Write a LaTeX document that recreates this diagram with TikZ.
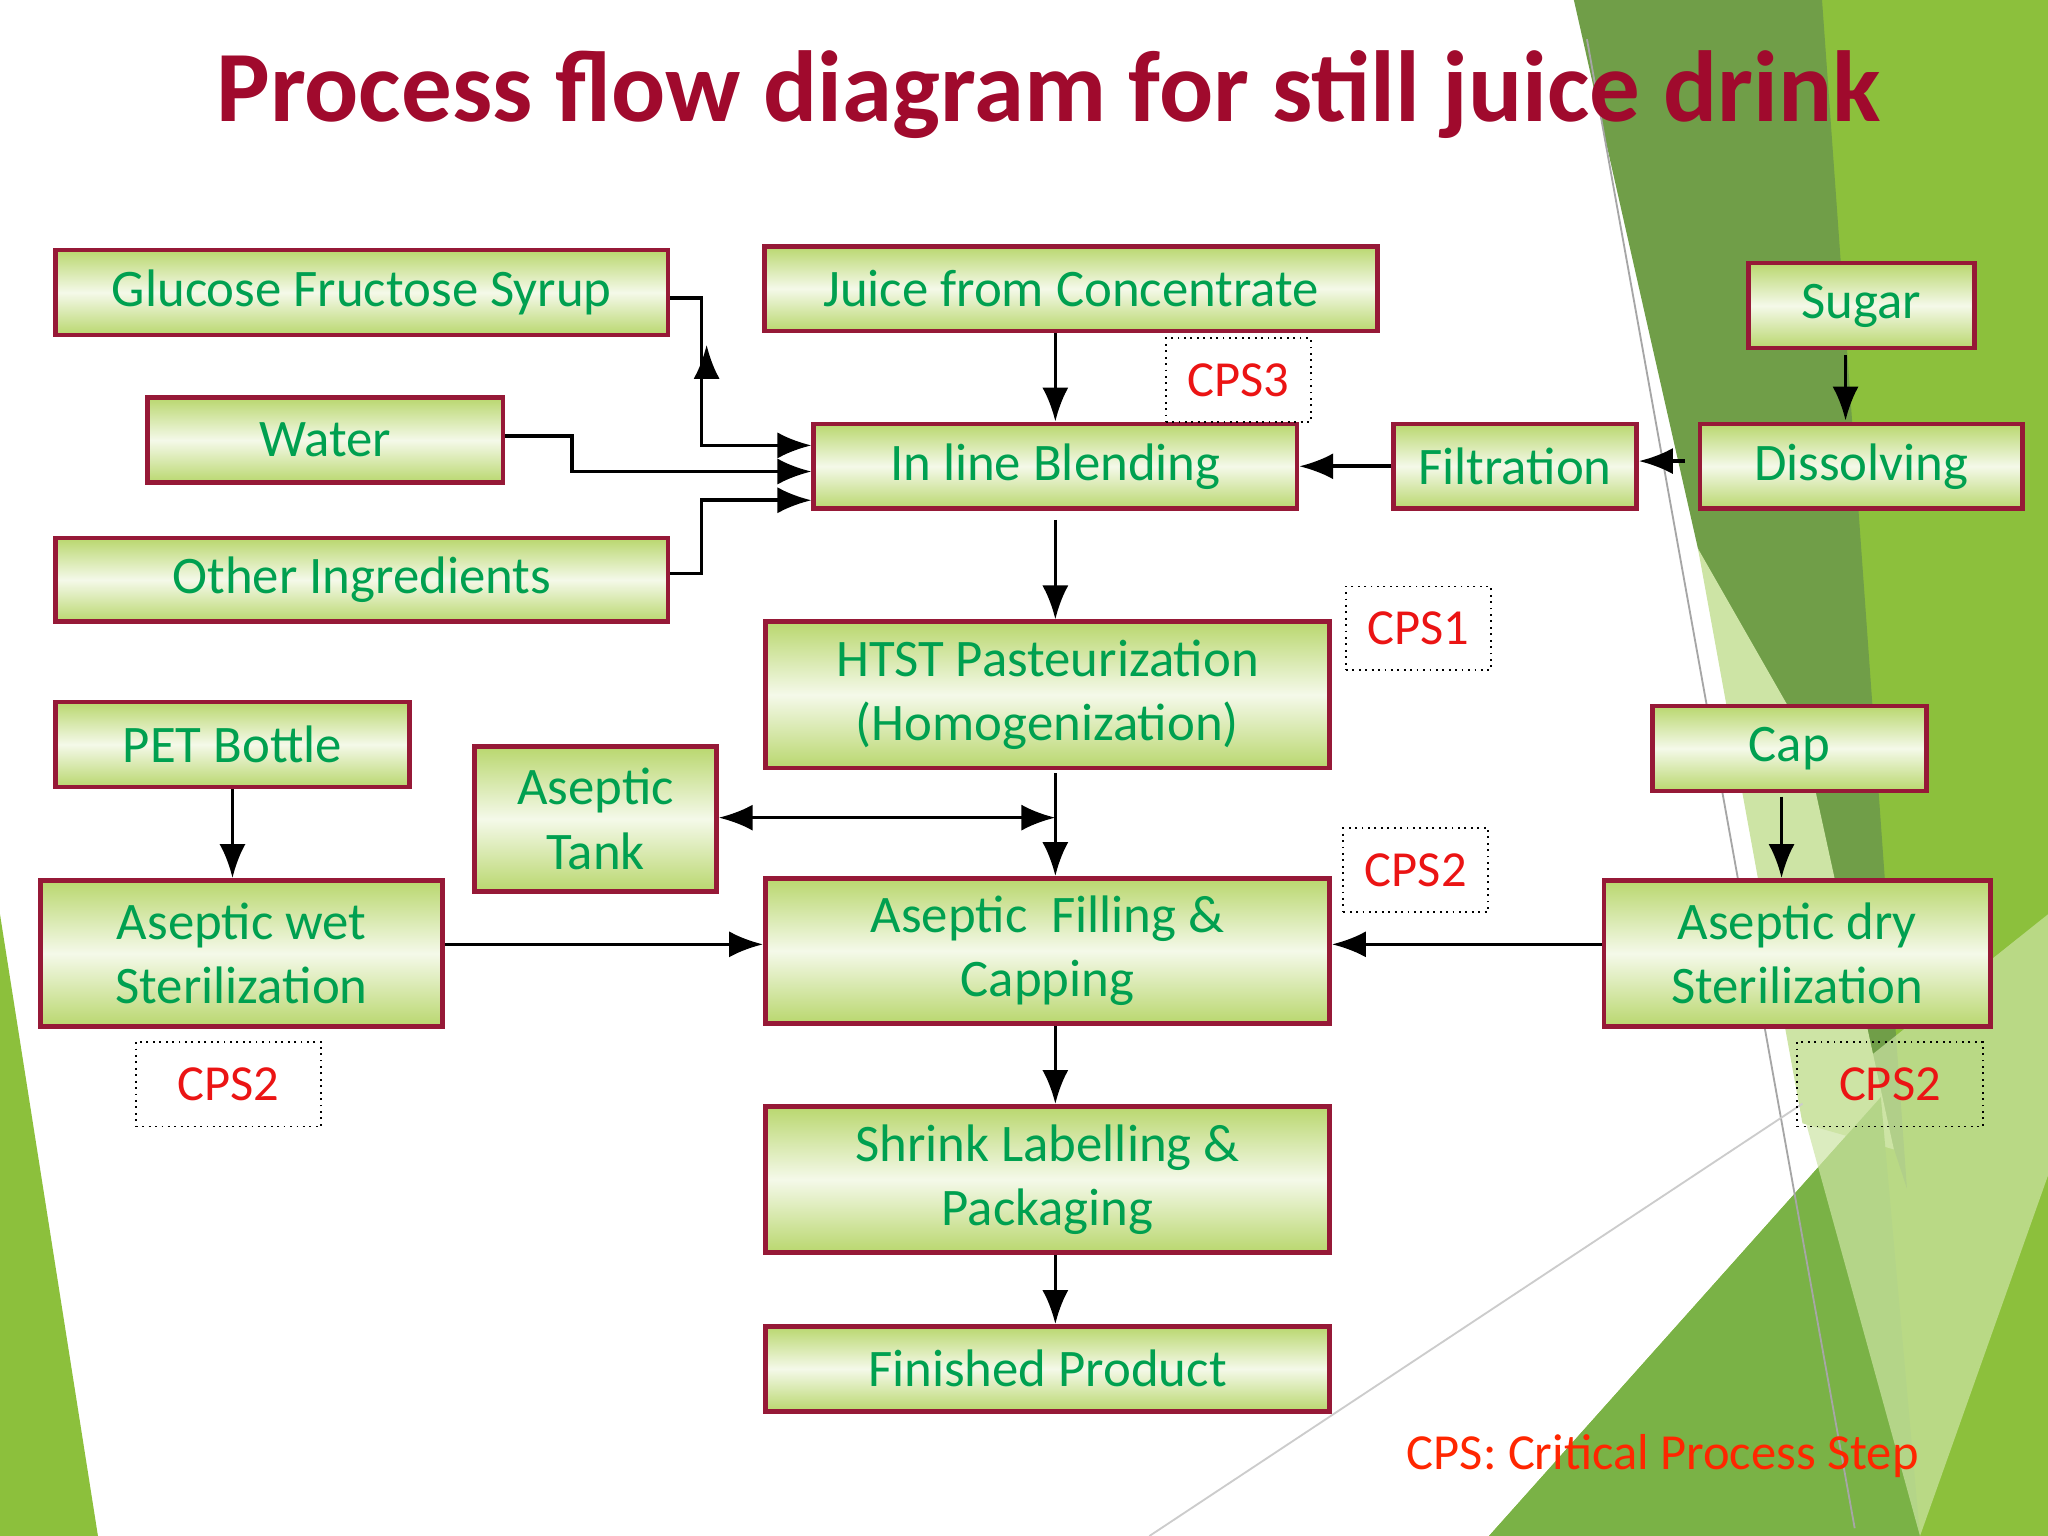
\documentclass[tikz,border=0pt]{standalone}
\usepackage{fontspec}
\setmainfont{Carlito}
\usetikzlibrary{arrows.meta}
\definecolor{titlered}{RGB}{160,10,45}
\definecolor{boxgreen}{RGB}{185,215,110}
\definecolor{boxborder}{RGB}{150,25,55}
\definecolor{textgreen}{RGB}{0,160,80}
\definecolor{cpsred}{RGB}{235,20,20}
\definecolor{darkolive}{RGB}{112,158,72}
\definecolor{brightgreen}{RGB}{140,192,60}
\definecolor{palegreen}{RGB}{205,228,165}
\definecolor{midgreen}{RGB}{122,178,70}

\begin{document}
\begin{tikzpicture}[x=0.1mm,y=-0.1mm,
  box/.style={draw=boxborder, line width=1pt, inner sep=0pt, align=center,
    top color=boxgreen, bottom color=boxgreen, middle color=white!85!boxgreen,
    font=\fontsize{11.5}{14}\selectfont, text=textgreen},
  cps/.style={draw=black, densely dotted, thin, inner sep=0pt, fill=none,
    font=\fontsize{11}{13}\selectfont, text=cpsred},
  arr/.style={-{Latex[length=2.6mm,width=2mm]}, thick, black},
  ln/.style={thick, black}
]
\useasboundingbox (0,0) rectangle (1568,1176);
\fill[white] (0,0) rectangle (1568,1176);

% ===== background decoration =====
\fill[brightgreen] (1330,0) -- (1568,0) -- (1568,1176) -- (1140,1176) -- (1440,840) -- cycle;
\fill[darkolive] (1205,0) -- (1395,0) -- (1460,910) -- (1300,420) -- cycle;
\fill[palegreen] (1300,420) -- (1380,560) -- (1450,880) -- (1380,860) -- cycle;
\fill[midgreen] (1140,1176) -- (1440,840) -- (1470,1176) -- cycle;
\fill[palegreen, opacity=0.7] (1380,850) -- (1568,700) -- (1568,900) -- (1470,1176) -- cycle;
\fill[brightgreen] (0,700) -- (75,1176) -- (0,1176) -- cycle;
\draw[gray!70, thin] (1215,30) -- (1420,1170);
\draw[gray!40, thin] (880,1176) -- (1380,845);

% ===== title =====
\node[font=\fontsize{22}{26}\selectfont\bfseries, text=titlered] (title) at (803,72)
  {Process flow diagram for still juice drink};

% ===== boxes =====
\node[box, minimum width=46.9mm, minimum height=6.5mm] (glu) at (277,224) {Glucose Fructose Syrup};
\node[box, minimum width=46.9mm, minimum height=6.5mm] (jfc) at (820,221) {Juice from Concentrate};
\node[box, minimum width=17.3mm, minimum height=6.5mm] (sug) at (1425,234) {Sugar};
\node[box, minimum width=27.2mm, minimum height=6.5mm] (wat) at (249,337) {Water};
\node[box, minimum width=37mm, minimum height=6.5mm] (ble) at (808,357) {In line Blending};
\node[box, minimum width=18.6mm, minimum height=6.5mm] (fil) at (1160,357) {Filtration};
\node[box, minimum width=24.7mm, minimum height=6.5mm] (dis) at (1425,357) {Dissolving};
\node[box, minimum width=46.9mm, minimum height=6.4mm] (oth) at (277,444) {Other Ingredients};
\node[box, minimum width=43.2mm, minimum height=11.2mm] (hts) at (802,532) {HTST Pasteurization\\(Homogenization)};
\node[box, minimum width=27.1mm, minimum height=6.5mm] (pet) at (178,570) {PET Bottle};
\node[box, minimum width=18.5mm, minimum height=11.1mm] (tan) at (456,627) {Aseptic\\Tank};
\node[box, minimum width=21mm, minimum height=6.5mm] (cap) at (1370,573) {Cap};
\node[box, minimum width=30.8mm, minimum height=11.2mm] (wet) at (185,730) {Aseptic wet\\Sterilization};
\node[box, minimum width=43.2mm, minimum height=11.1mm] (fll) at (802,728) {Aseptic\ \ Filling \&\\Capping};
\node[box, minimum width=29.6mm, minimum height=11.2mm] (dry) at (1376,730) {Aseptic dry\\Sterilization};
\node[box, minimum width=43.2mm, minimum height=11.2mm] (shr) at (802,903) {Shrink Labelling \&\\Packaging};
\node[box, minimum width=43.2mm, minimum height=6.5mm] (fin) at (802,1048) {Finished Product};

% ===== CPS labels =====
\node[cps, minimum width=11.1mm, minimum height=6.4mm] (c3) at (948,291) {CPS3};
\node[cps, minimum width=11.1mm, minimum height=6.4mm] (c1) at (1086,481) {CPS1};
\node[cps, minimum width=11.1mm, minimum height=6.4mm] (c2m) at (1084,666) {CPS2};
\node[cps, minimum width=14.2mm, minimum height=6.5mm] (c2l) at (175,830) {CPS2};
\node[cps, minimum width=14.2mm, minimum height=6.5mm] (c2r) at (1447,830) {CPS2};
\node[font=\fontsize{11}{13}\selectfont, text=orange!30!red] (note) at (1273,1115) {CPS: Critical Process Step};

% ===== connectors =====
\coordinate (jglu) at (537,341);
\coordinate (jwat) at (438,361);
\coordinate (joth) at (537,383);
\draw[arr] (glu.east |- 0,228) -| (jglu) -- (jglu -| ble.west);
\draw[arr] (wat.east |- 0,334) -| (jwat) -- (jwat -| ble.west);
\draw[arr] (oth.east |- 0,439) -| (joth) -- (joth -| ble.west);
\draw[arr] (jfc.south -| 808,0) -- (ble.north -| 808,0);
\coordinate (tipa) at (541,280);
\coordinate (tipb) at (541,264);
\draw[arr] (tipa) -- (tipb);
\coordinate (bl0) at (808,398);
\draw[arr] (bl0) -- (hts.north -| bl0);
\draw[arr] (fil) -- (ble);
\coordinate (ds0) at (1290,353);
\draw[arr] (ds0) -- (ds0 -| fil.east);
\coordinate (sg0) at (1413,272);
\coordinate (sg1) at (1413,322);
\draw[arr] (sg0) -- (sg1);
\coordinate (ht0) at (808,592);
\draw[arr] (ht0) -- (ht0 |- fll.north);
\coordinate (tk1) at (808,626);
\draw[{Latex[length=2.6mm,width=2mm]}-{Latex[length=2.6mm,width=2mm]}, thick] (tan.east |- tk1) -- (tk1);
\draw[arr] (pet) -- (pet |- wet.north);
\draw[arr] (wet.east |- 0,723) -- (fll.west |- 0,723);
\draw[arr] (dry.west |- 0,723) -- (fll.east |- 0,723);
\coordinate (cp0) at (1364,610);
\draw[arr] (cp0) -- (cp0 |- dry.north);
\draw[arr] (fll.south -| 808,0) -- (shr.north -| 808,0);
\draw[arr] (shr.south -| 808,0) -- (fin.north -| 808,0);
\end{tikzpicture}
\end{document}
